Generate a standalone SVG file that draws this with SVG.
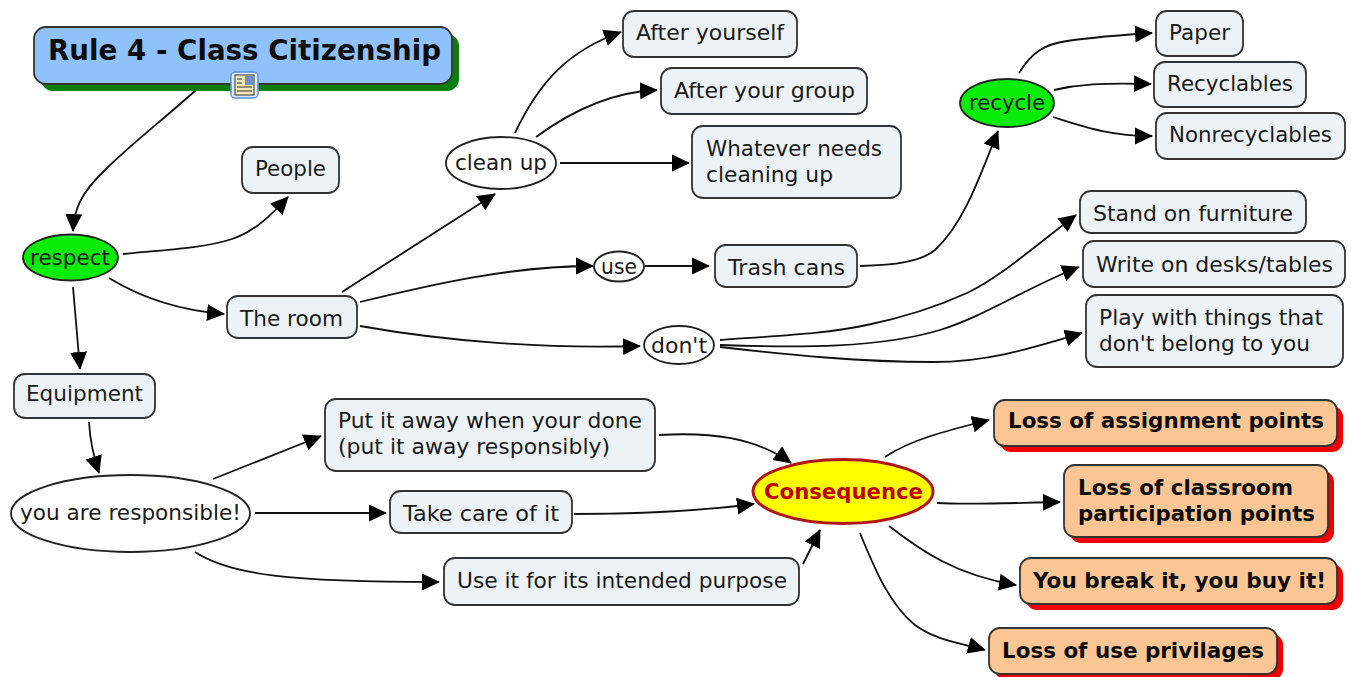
<svg xmlns="http://www.w3.org/2000/svg" width="1353" height="677" viewBox="0 0 1353 677">
<style>
text{font-family:"DejaVu Sans","Liberation Sans",sans-serif;font-size:22px;fill:#1a1a1a;}
.b{font-weight:bold;fill:#0c0c0c}
.box{fill:#ecf2f5;stroke:#333;stroke-width:1.8}
.or{fill:#fbc594;stroke:#333;stroke-width:1.8}
.sh{fill:#f00000;stroke:none}
.ov{fill:#fff;stroke:#222;stroke-width:1.8}
.gr{fill:#08ec08;stroke:#222;stroke-width:1.8}
#connectors path{fill:none;stroke:#111;stroke-width:1.8;marker-end:url(#ah)}
</style>
<defs>
<marker id="ah" markerUnits="userSpaceOnUse" markerWidth="20" markerHeight="20" refX="17" refY="9" orient="auto"><path d="M0 0.500L18 9L0 17.500Z" fill="#000"/></marker>
</defs>
<rect width="1353" height="677" fill="#fff"/>
<g id="connectors">
<path d="M196 90C165 118 130 145 105 170C82 192 74 208 73 231"/>
<path d="M123 254C165 250 205 248 232 239C256 231 272 214 288 197"/>
<path d="M109 278C140 297 175 310 224 314"/>
<path d="M73 287L80 369"/>
<path d="M89 422C90 440 93 455 99 473"/>
<path d="M342 292L495 194"/>
<path d="M360 302C430 285 510 266 593 266"/>
<path d="M360 326C450 342 550 349 640 346"/>
<path d="M515 133C540 80 570 50 621 32"/>
<path d="M536 137C570 112 610 92 657 90"/>
<path d="M560 163L689 163"/>
<path d="M645 266L709 266"/>
<path d="M860 266C895 265 920 262 935 250C965 222 980 175 998 131"/>
<path d="M1019 73C1032 52 1045 44 1067 41C1095 37 1120 35 1152 33"/>
<path d="M1054 90C1080 84 1100 83 1151 84"/>
<path d="M1053 117C1085 127 1110 136 1152 136"/>
<path d="M720 340C790 335 830 333 867 325C915 315 945 303 967 293C1000 277 1030 250 1076 215"/>
<path d="M720 345C800 348 880 348 940 330C985 316 1030 286 1079 267"/>
<path d="M720 347C790 355 860 362 933 362C990 362 1035 347 1082 333"/>
<path d="M213 479L321 436"/>
<path d="M255 513L386 513"/>
<path d="M195 552C230 575 290 582 439 582"/>
<path d="M659 435C710 432 755 437 791 463"/>
<path d="M574 514C640 514 700 511 754 504"/>
<path d="M803 564L820 530"/>
<path d="M885 457C910 440 945 431 989 420"/>
<path d="M937 503C970 505 1010 503 1060 502"/>
<path d="M889 526C920 550 955 575 1016 585"/>
<path d="M860 533C875 570 890 605 915 625C935 640 960 643 985 650"/>
</g>
<g id="n-title">
<rect x="41" y="34" width="418" height="57" rx="12" fill="#0a7d0a"/>
<rect x="34" y="27" width="418" height="57" rx="12" fill="#8fc1fb" stroke="#333" stroke-width="1.8"/>
<text class="b" x="48" y="60" style="font-size:28px" textLength="393" lengthAdjust="spacingAndGlyphs">Rule 4 - Class Citizenship</text>
<rect x="231" y="72" width="27" height="26" rx="4" fill="#dbe8f7" stroke="#5b93d6" stroke-width="1.5"/>
<rect x="235" y="75" width="19" height="20" fill="#f3e7b8" stroke="#333"/>
<rect x="245" y="76" width="8" height="9" fill="#6f8fc0"/>
<path d="M237 79h5M237 83h5M237 87h15M237 91h15" stroke="#333" stroke-width="1.2" fill="none"/>
</g>
<g id="n-respect"><ellipse class="gr" cx="70.500" cy="257.500" rx="47.500" ry="23"/><text x="30" y="265" textLength="80" lengthAdjust="spacingAndGlyphs">respect</text></g>
<g id="n-people"><rect class="box" x="242" y="147" width="97" height="46" rx="11"/><text x="255" y="176" textLength="71" lengthAdjust="spacingAndGlyphs">People</text></g>
<g id="n-room"><rect class="box" x="227" y="296" width="130" height="42" rx="11"/><text x="240" y="326" textLength="103" lengthAdjust="spacingAndGlyphs">The room</text></g>
<g id="n-equipment"><rect class="box" x="14" y="374" width="141" height="44" rx="11"/><text x="26" y="401" textLength="117" lengthAdjust="spacingAndGlyphs">Equipment</text></g>
<g id="n-cleanup"><ellipse class="ov" cx="501" cy="163" rx="55" ry="26"/><text x="455" y="170" textLength="92" lengthAdjust="spacingAndGlyphs">clean up</text></g>
<g id="n-use"><ellipse class="ov" cx="619" cy="266.500" rx="25" ry="15"/><text x="601" y="274" textLength="36" lengthAdjust="spacingAndGlyphs">use</text></g>
<g id="n-dont"><ellipse class="ov" cx="679" cy="345" rx="35" ry="19"/><text x="651" y="353" textLength="56" lengthAdjust="spacingAndGlyphs">don't</text></g>
<g id="n-after1"><rect class="box" x="623" y="11" width="174" height="46" rx="11"/><text x="636" y="40" textLength="148" lengthAdjust="spacingAndGlyphs">After yourself</text></g>
<g id="n-after2"><rect class="box" x="661" y="68" width="206" height="46" rx="11"/><text x="674" y="98" textLength="181" lengthAdjust="spacingAndGlyphs">After your group</text></g>
<g id="n-whatever"><rect class="box" x="692" y="126" width="209" height="72" rx="11"/><text x="706" y="156" textLength="176" lengthAdjust="spacingAndGlyphs">Whatever needs</text><text x="706" y="182" textLength="127" lengthAdjust="spacingAndGlyphs">cleaning up</text></g>
<g id="n-trash"><rect class="box" x="715" y="245" width="142" height="42" rx="11"/><text x="728" y="275" textLength="117" lengthAdjust="spacingAndGlyphs">Trash cans</text></g>
<g id="n-recycle"><ellipse class="gr" cx="1007" cy="103" rx="47" ry="24"/><text x="969" y="110" textLength="76" lengthAdjust="spacingAndGlyphs">recycle</text></g>
<g id="n-paper"><rect class="box" x="1156" y="11" width="87" height="45" rx="11"/><text x="1169" y="40" textLength="61" lengthAdjust="spacingAndGlyphs">Paper</text></g>
<g id="n-recyclables"><rect class="box" x="1154" y="62" width="152" height="45" rx="11"/><text x="1167" y="91" textLength="126" lengthAdjust="spacingAndGlyphs">Recyclables</text></g>
<g id="n-nonrec"><rect class="box" x="1156" y="113" width="189" height="46" rx="11"/><text x="1169" y="142" textLength="163" lengthAdjust="spacingAndGlyphs">Nonrecyclables</text></g>
<g id="n-stand"><rect class="box" x="1080" y="191" width="226" height="42" rx="11"/><text x="1093" y="221" textLength="200" lengthAdjust="spacingAndGlyphs">Stand on furniture</text></g>
<g id="n-write"><rect class="box" x="1083" y="241" width="262" height="46" rx="11"/><text x="1096" y="272" textLength="237" lengthAdjust="spacingAndGlyphs">Write on desks/tables</text></g>
<g id="n-play"><rect class="box" x="1086" y="295" width="257" height="72" rx="11"/><text x="1099" y="325" textLength="224" lengthAdjust="spacingAndGlyphs">Play with things that</text><text x="1099" y="351" textLength="211" lengthAdjust="spacingAndGlyphs">don't belong to you</text></g>
<g id="n-responsible"><ellipse class="ov" cx="130.500" cy="513.500" rx="119.500" ry="38.500"/><text x="20" y="520" textLength="221" lengthAdjust="spacingAndGlyphs">you are responsible!</text></g>
<g id="n-putaway"><rect class="box" x="325" y="399" width="330" height="72" rx="11"/><text x="338" y="428" textLength="304" lengthAdjust="spacingAndGlyphs">Put it away when your done</text><text x="338" y="454" textLength="272" lengthAdjust="spacingAndGlyphs">(put it away responsibly)</text></g>
<g id="n-care"><rect class="box" x="390" y="491" width="182" height="42" rx="11"/><text x="403" y="521" textLength="156" lengthAdjust="spacingAndGlyphs">Take care of it</text></g>
<g id="n-use-it"><rect class="box" x="444" y="558" width="355" height="47" rx="11"/><text x="457" y="588" textLength="330" lengthAdjust="spacingAndGlyphs">Use it for its intended purpose</text></g>
<g id="n-consequence"><ellipse cx="843" cy="491.500" rx="90" ry="32" fill="#ffff00" stroke="#b01515" stroke-width="3"/><text class="b" x="764" y="499" textLength="159" lengthAdjust="spacingAndGlyphs" style="fill:#c00000">Consequence</text></g>
<g id="n-loss1"><rect class="sh" x="1000" y="406" width="343" height="46" rx="11"/><rect class="or" x="994" y="400" width="343" height="46" rx="11"/><text class="b" x="1008" y="428" textLength="316" lengthAdjust="spacingAndGlyphs">Loss of assignment points</text></g>
<g id="n-loss2"><rect class="sh" x="1070" y="471" width="264" height="72" rx="11"/><rect class="or" x="1064" y="465" width="264" height="72" rx="11"/><text class="b" x="1078" y="495" textLength="215" lengthAdjust="spacingAndGlyphs">Loss of classroom</text><text class="b" x="1078" y="521" textLength="237" lengthAdjust="spacingAndGlyphs">participation points</text></g>
<g id="n-break"><rect class="sh" x="1026" y="564" width="317" height="46" rx="11"/><rect class="or" x="1020" y="558" width="317" height="46" rx="11"/><text class="b" x="1033" y="588" textLength="293" lengthAdjust="spacingAndGlyphs">You break it, you buy it!</text></g>
<g id="n-loss3"><rect class="sh" x="995" y="634" width="288" height="46" rx="11"/><rect class="or" x="989" y="628" width="288" height="46" rx="11"/><text class="b" x="1002" y="658" textLength="262" lengthAdjust="spacingAndGlyphs">Loss of use privilages</text></g>
</svg>
